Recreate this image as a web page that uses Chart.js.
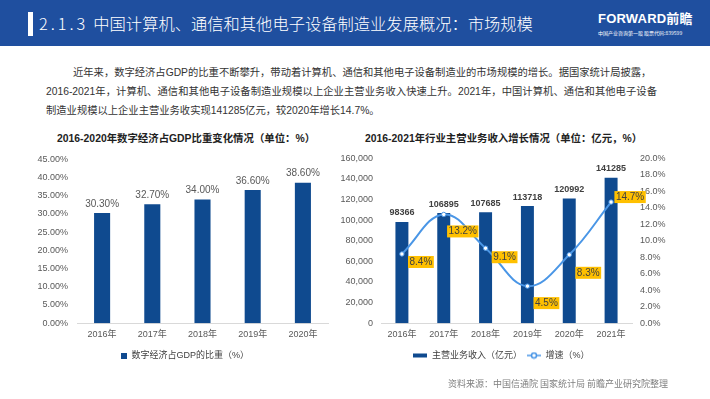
<!DOCTYPE html>
<html>
<head>
<meta charset="utf-8">
<script src="https://cdn.jsdelivr.net/npm/chart.js@4.4.0/dist/chart.umd.min.js"></script>
<style>
  body { margin: 0; width: 710px; height: 399px; background: #fff; position: relative; overflow: hidden;
         font-family: "Liberation Sans", Arial, "Noto Sans CJK SC", sans-serif; }
  .header { position: absolute; left: 0; top: 0; width: 710px; height: 46px; background: #1f4f9f; }
  .header .mark { position: absolute; left: 28px; top: 12px; width: 5px; height: 24px; background: #fff; }
  .header .title { position: absolute; left: 39px; top: 12px; font-size: 16.3px; line-height: 22px; color: #fff;
                   font-family: "Noto Sans CJK SC", sans-serif; font-weight: 300; white-space: nowrap; }
  .header .num { letter-spacing: 3px; margin-right: 5px; }
  .logo { position: absolute; left: 598px; top: 11px; color: #fff; }
  .logo .big { font-size: 13px; font-weight: bold; line-height: 15px; letter-spacing: 0.2px; }
  .logo .small { font-size: 5px; line-height: 7px; margin-top: 3px; white-space: nowrap; font-family: "Noto Sans CJK SC"; }
  .para { position: absolute; font-size: 10.3px; line-height: 14px; color: #333;
          font-family: "Liberation Sans", "Noto Sans CJK SC", sans-serif; white-space: nowrap; }
  .just { text-align: justify; text-align-last: justify; }
  .ctitle { position: absolute; top: 130px; font-size: 10.4px; font-weight: bold; color: #222; white-space: nowrap;
            font-family: "Liberation Sans", "Noto Sans CJK SC", sans-serif; }
  .source { position: absolute; left: 448px; top: 377px; font-size: 9px; color: #7f7f7f; font-family: "Noto Sans CJK SC"; }
  canvas { position: absolute; }
</style>
</head>
<body>
<div class="header">
  <div class="mark"></div>
  <div class="title"><span class="num">2.1.3</span>中国计算机、通信和其他电子设备制造业发展概况：市场规模</div>
  <div class="logo">
    <div class="big">FORWARD前瞻</div>
    <div class="small">中国产业咨询第一股 股票代码:839599</div>
  </div>
</div>

<div class="para just" style="left:73px;top:66px;width:575px;">近年来，数字经济占GDP的比重不断攀升，带动着计算机、通信和其他电子设备制造业的市场规模的增长。据国家统计局披露，</div>
<div class="para just" style="left:46px;top:85px;width:611px;">2016-2021年，计算机、通信和其他电子设备制造业规模以上企业主营业务收入快速上升。2021年，中国计算机、通信和其他电子设备</div>
<div class="para" style="left:46px;top:104px;">制造业规模以上企业主营业务收实现141285亿元，较2020年增长14.7%。</div>

<div class="ctitle" style="left:57px;">2016-2020年数字经济占GDP比重变化情况（单位：%）</div>
<div class="ctitle" style="left:365px;">2016-2021年行业主营业务收入增长情况（单位：亿元，%）</div>

<canvas id="gdpChart" width="330" height="225" style="left:20px;top:145px;"></canvas>
<canvas id="incomeChart" width="333" height="225" style="left:335px;top:145px;"></canvas>

<div class="source">资料来源：中国信通院 国家统计局 前瞻产业研究院整理</div>

<script>
// 左图：数字经济占GDP比重
const gdpYears = ['2016年', '2017年', '2018年', '2019年', '2020年'];
const gdpShare = [30.3, 32.7, 34.0, 36.6, 38.6];

// 右图：主营业务收入与增速
const incomeYears = ['2016年', '2017年', '2018年', '2019年', '2020年', '2021年'];
const income = [98366, 106895, 107685, 113718, 120992, 141285];
const growth = [8.4, 13.2, 9.1, 4.5, 8.3, 14.7];

const corBarra = '#0f4a8f';
const corLinha = '#4a96e6';
const corTexto = '#595959';
const fonte = '"Liberation Sans", Arial, "Noto Sans CJK SC", sans-serif';

Chart.defaults.font.family = fonte;
Chart.defaults.font.size = 9;
Chart.defaults.color = corTexto;

// rótulos de valor desenhados sobre os elementos do gráfico
const rotulosPlugin = {
    id: 'rotulos',
    afterDatasetsDraw(chart, args, opts) {
        const ctx = chart.ctx;
        (opts.sets || []).forEach((cfg) => {
            if (!cfg) return;
            const ds = chart.data.datasets[cfg.dataset];
            const meta = chart.getDatasetMeta(cfg.dataset);
            meta.data.forEach((el, j) => {
                const texto = cfg.format(ds.data[j]);
                const dy = Array.isArray(cfg.dy) ? cfg.dy[j] : cfg.dy;
                const x = el.x + (cfg.dx || 0);
                const y = el.y + dy;
                ctx.save();
                ctx.font = cfg.font;
                if (cfg.bg) {
                    const w = ctx.measureText(texto).width + 3;
                    ctx.fillStyle = cfg.bg;
                    ctx.fillRect(x - w / 2, y - 6, w, 12);
                }
                ctx.fillStyle = cfg.color;
                ctx.textAlign = 'center';
                ctx.textBaseline = 'middle';
                ctx.fillText(texto, x, y);
                ctx.restore();
            });
        });
    }
};

function icone(w, h, desenho) {
    const c = document.createElement('canvas');
    c.width = w;
    c.height = h;
    desenho(c.getContext('2d'));
    return c;
}

const iconeQuadrado = icone(6, 6, (ctx) => {
    ctx.fillStyle = corBarra;
    ctx.fillRect(0, 0, 6, 6);
});
const iconeBarra = icone(14, 8, (ctx) => {
    ctx.fillStyle = corBarra;
    ctx.fillRect(0, 2, 14, 4);
});
const iconeLinha = icone(14, 8, (ctx) => {
    ctx.strokeStyle = corLinha;
    ctx.lineWidth = 1.5;
    ctx.beginPath();
    ctx.moveTo(0, 4);
    ctx.lineTo(14, 4);
    ctx.stroke();
    ctx.fillStyle = '#fff';
    ctx.beginPath();
    ctx.arc(7, 4, 2.5, 0, Math.PI * 2);
    ctx.fill();
    ctx.stroke();
});

new Chart(document.getElementById('gdpChart'), {
    type: 'bar',
    data: {
        labels: gdpYears,
        datasets: [{
            label: '数字经济占GDP的比重（%）',
            data: gdpShare,
            backgroundColor: corBarra,
            barPercentage: 0.32,
            categoryPercentage: 1
        }]
    },
    options: {
        responsive: false,
        animation: false,
        layout: { padding: { top: 8, right: 0, left: 0, bottom: 0 } },
        plugins: {
            legend: {
                position: 'bottom',
                labels: {
                    usePointStyle: true,
                    pointStyleWidth: 6,
                    padding: 5,
                    color: '#404040',
                    font: { size: 9 },
                    generateLabels(chart) {
                        return chart.data.datasets.map((ds, i) => ({
                            text: ds.label,
                            pointStyle: iconeQuadrado,
                            fontColor: '#404040',
                            datasetIndex: i,
                            lineWidth: 0
                        }));
                    }
                }
            },
            tooltip: { enabled: false },
            rotulos: {
                sets: [{
                    dataset: 0,
                    format: (v) => v.toFixed(2) + '%',
                    dy: -9,
                    font: '10px ' + fonte,
                    color: corTexto
                }]
            }
        },
        scales: {
            x: {
                grid: { display: false, drawTicks: false },
                border: { display: true, color: '#d9d9d9' },
                ticks: { padding: 6, font: { size: 9 } }
            },
            y: {
                min: 0,
                max: 45,
                grid: { display: false, drawTicks: false },
                border: { display: false },
                ticks: {
                    stepSize: 5,
                    padding: 9,
                    callback: (v) => v.toFixed(2) + '%'
                },
                afterFit(s) { s.width = 57; }
            },
            // margem direita vazia, para o gráfico ficar como no original
            margem: {
                position: 'right',
                grid: { display: false, drawTicks: false },
                border: { display: false },
                ticks: { display: false },
                afterFit(s) { s.width = 22; }
            }
        }
    },
    plugins: [rotulosPlugin]
});

new Chart(document.getElementById('incomeChart'), {
    type: 'bar',
    data: {
        labels: incomeYears,
        datasets: [{
            type: 'line',
            label: '增速（%）',
            data: growth,
            yAxisID: 'y1',
            borderColor: corLinha,
            borderWidth: 2,
            tension: 0.4,
            pointRadius: 2.2,
            pointBorderWidth: 1,
            pointBackgroundColor: '#fff',
            pointBorderColor: corLinha,
            order: 0
        }, {
            type: 'bar',
            label: '主营业务收入（亿元）',
            data: income,
            yAxisID: 'y',
            backgroundColor: corBarra,
            barPercentage: 0.31,
            categoryPercentage: 1,
            order: 1
        }]
    },
    options: {
        responsive: false,
        animation: false,
        layout: { padding: { top: 8, right: 0, left: 0, bottom: 0 } },
        plugins: {
            legend: {
                position: 'bottom',
                labels: {
                    usePointStyle: true,
                    pointStyleWidth: 14,
                    padding: 5,
                    color: '#404040',
                    font: { size: 9 },
                    generateLabels(chart) {
                        return [1, 0].map((i) => ({
                            text: chart.data.datasets[i].label,
                            pointStyle: i === 1 ? iconeBarra : iconeLinha,
                            fontColor: '#404040',
                            datasetIndex: i,
                            lineWidth: 0
                        }));
                    }
                }
            },
            tooltip: { enabled: false },
            rotulos: {
                sets: [{
                    dataset: 1,
                    format: (v) => String(v),
                    dy: -9,
                    font: 'bold 9px ' + fonte,
                    color: '#404040'
                }, {
                    dataset: 0,
                    format: (v) => v.toFixed(1) + '%',
                    dx: 19,
                    dy: [8, 17, 9, 17, 18, -5],
                    font: '10px ' + fonte,
                    color: '#404040',
                    bg: '#ffc000'
                }]
            }
        },
        scales: {
            x: {
                grid: { display: false, drawTicks: false },
                border: { display: true, color: '#d9d9d9' },
                ticks: { padding: 6, font: { size: 9 } }
            },
            y: {
                position: 'left',
                min: 0,
                max: 160000,
                grid: { display: false, drawTicks: false },
                border: { display: false },
                ticks: { stepSize: 20000, padding: 8 },
                afterFit(s) { s.width = 46; }
            },
            y1: {
                position: 'right',
                min: 0,
                max: 20,
                grid: { display: false, drawTicks: false },
                border: { display: false },
                ticks: {
                    stepSize: 2,
                    padding: 8,
                    callback: (v) => v.toFixed(1) + '%'
                },
                afterFit(s) { s.width = 36; }
            }
        }
    },
    plugins: [rotulosPlugin]
});
</script>
</body>
</html>
